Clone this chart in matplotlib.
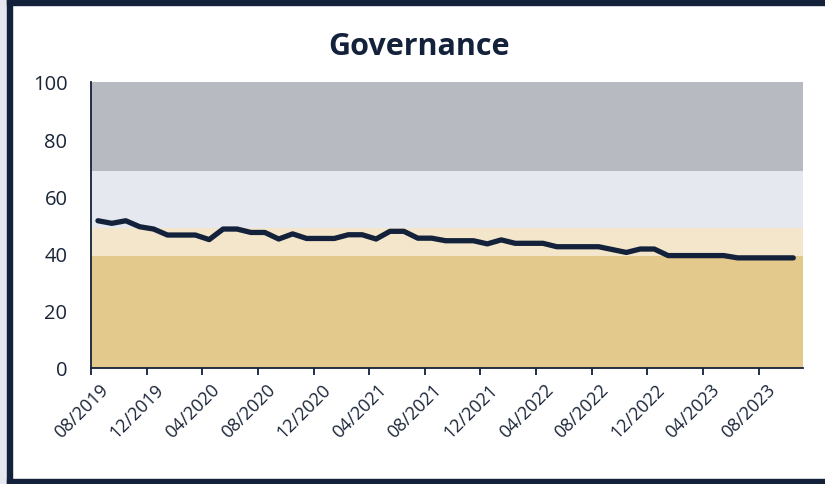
import matplotlib
matplotlib.use("Agg")
import matplotlib.pyplot as plt
from matplotlib.patches import Rectangle
from matplotlib.transforms import ScaledTranslation
import numpy as np

months = []
for k in range(51):
    m = 8 + k
    y = 2019 + (m - 1) // 12
    mm = (m - 1) % 12 + 1
    months.append(f"{mm:02d}/{y}")

values = [51.4, 50.5, 51.4, 49.3, 48.5, 46.4, 46.4, 46.4, 44.8, 48.5,
          48.5, 47.3, 47.3, 45.0, 46.8, 45.2, 45.2, 45.2, 46.5, 46.5,
          45.0, 47.7, 47.7, 45.3, 45.3, 44.4, 44.4, 44.4, 43.3, 44.7,
          43.5, 43.5, 43.5, 42.3, 42.3, 42.3, 42.3, 41.3, 40.3, 41.5,
          41.5, 39.2, 39.2, 39.2, 39.2, 39.2, 38.4, 38.4, 38.4, 38.4, 38.4]

band_edges = [0, 39, 49, 69, 100]
band_colors = ["#e3c98b", "#f3e6ca", "#e5e8ee", "#b8bac2"]

navy = "#13213a"
plt.rcParams['font.family'] = ['Open Sans', 'DejaVu Sans']

fig = plt.figure(figsize=(8.25, 4.85), dpi=100)
fig.patch.set_facecolor("white")

# outer frame (screenshot crop)
fig.add_artist(Rectangle((0, 0), 7/825, 1, transform=fig.transFigure, color="#e5e8ee", zorder=0))
fig.add_artist(Rectangle((7/825, 0), 5/825, 1, transform=fig.transFigure, color=navy, zorder=0))
fig.add_artist(Rectangle((7/825, 1 - 6/485), 1, 6/485, transform=fig.transFigure, color=navy, zorder=0))
fig.add_artist(Rectangle((7/825, 0), 1, 5/485, transform=fig.transFigure, color=navy, zorder=0))

ax = fig.add_axes([91/825, 1 - 368.5/485, (803 - 91)/825, (368.5 - 83)/485])
n = len(values)
x = np.arange(n) + 0.5
for lo, hi, c in zip(band_edges[:-1], band_edges[1:], band_colors):
    ax.axhspan(lo, hi, color=c, lw=0, zorder=0)
ax.plot(x, values, color=navy, lw=3.8, solid_capstyle='round', solid_joinstyle='round', zorder=3)

ax.set_xlim(0, n + 0.2)
ax.set_ylim(0, 100)
ax.set_yticks(range(0, 101, 20))
ax.tick_params(axis='y', length=0, pad=17, labelsize=14.5, labelcolor="#1a2538")
ticks = list(range(0, n, 4))
ax.set_xticks(ticks)
ax.set_xticklabels([months[t] for t in ticks], rotation=45, ha='right', rotation_mode='anchor',
                   fontsize=13, color="#1a2538")
ax.tick_params(axis='x', length=5, width=1.3, color=navy, pad=4)
off = ScaledTranslation(8/100, 0/100, fig.dpi_scale_trans)
for lab in ax.get_xticklabels():
    lab.set_transform(lab.get_transform() + off)
for s in ['top', 'right']:
    ax.spines[s].set_visible(False)
for s in ['left', 'bottom']:
    ax.spines[s].set_color(navy)
    ax.spines[s].set_linewidth(1.3)

fig.text(418.5/825, 1 - 47/485, "Governance", ha='center', va='center', fontsize=22,
         fontweight='bold', color=navy)

fig.savefig("out.png", dpi=100)
